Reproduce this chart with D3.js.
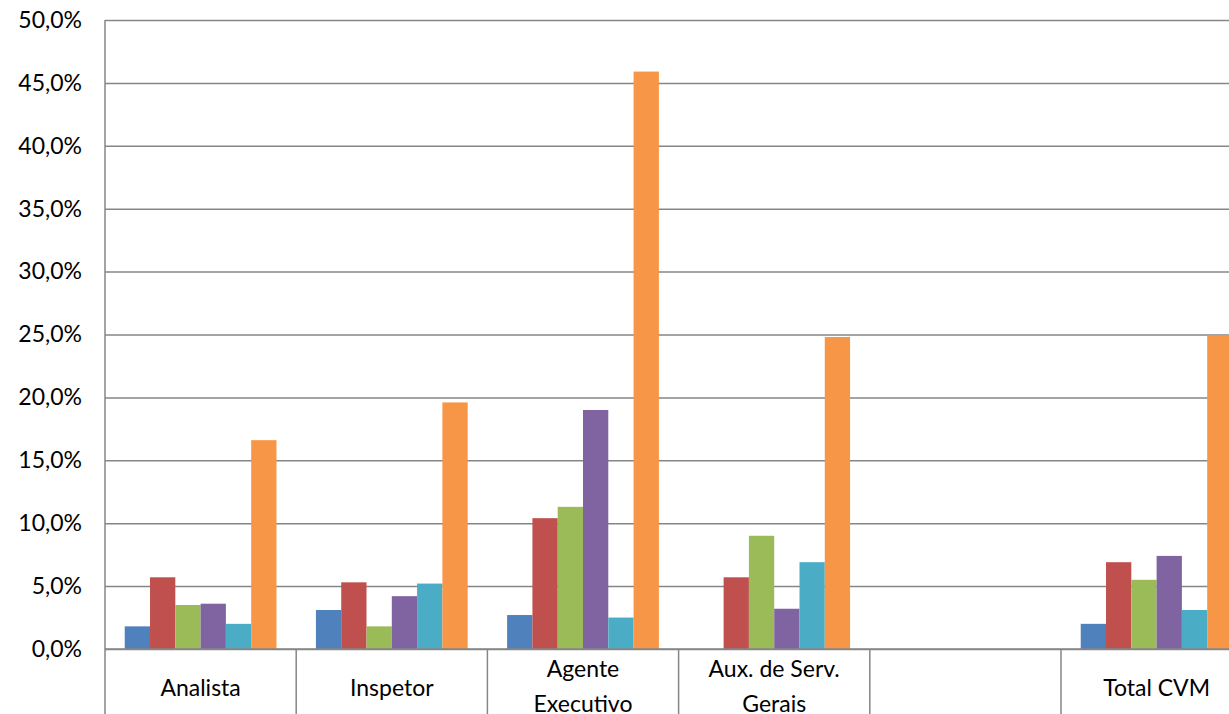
<!DOCTYPE html>
<html>
<head>
<meta charset="utf-8">
<script src="https://cdn.jsdelivr.net/npm/d3@7"></script>
<style>
  html, body { margin: 0; padding: 0; background: #fff; overflow: hidden; }
  svg { display: block; }
</style>
</head>
<body>
<script>
// Categories and tick labels
const categories = ['Analista', 'Inspetor', 'Agente Executivo', 'Aux. de Serv. Gerais', '', 'Total CVM'];
const categoryLines = [['Analista'], ['Inspetor'], ['Agente', 'Executivo'], ['Aux. de Serv.', 'Gerais'], [''], ['Total CVM']];
const yTicks = [0, 0.05, 0.10, 0.15, 0.20, 0.25, 0.30, 0.35, 0.40, 0.45, 0.50];

// Series values (fractions)
const serie1 = [0.018, 0.031, 0.027, 0.000, 0, 0.020];
const serie2 = [0.057, 0.053, 0.104, 0.057, 0, 0.069];
const serie3 = [0.035, 0.018, 0.113, 0.090, 0, 0.055];
const serie4 = [0.036, 0.042, 0.190, 0.032, 0, 0.074];
const serie5 = [0.020, 0.052, 0.025, 0.069, 0, 0.031];
const serie6 = [0.166, 0.196, 0.459, 0.248, 0, 0.249];

const series = [serie1, serie2, serie3, serie4, serie5, serie6];
const colors = ['#4F81BD', '#C0504D', '#9BBB59', '#8064A2', '#4BACC6', '#F79646'];

const W = 1229, H = 714;
const plotLeft = 105, plotTop = 20, baseline = 649;
const bandW = 191.2;

const svg = d3.select('body')
  .append('svg')
  .attr('width', W)
  .attr('height', H);

const x = d3.scaleBand()
  .domain(d3.range(categories.length))
  .range([plotLeft, plotLeft + bandW * categories.length])
  .paddingInner(0)
  .paddingOuter(0);

const xInner = d3.scaleBand()
  .domain(d3.range(series.length))
  .range([0, x.bandwidth()])
  .paddingOuter(0.78)
  .paddingInner(0);

const y = d3.scaleLinear()
  .domain([0, 0.5])
  .range([baseline, plotTop]);

const fmt = d => d3.format('.1f')(d * 100).replace('.', ',') + '%';

// gridlines + y labels
const yAxis = svg.append('g')
  .attr('transform', `translate(${plotLeft},0)`)
  .call(d3.axisLeft(y)
    .tickValues(yTicks)
    .tickFormat(fmt)
    .tickSize(-(W - plotLeft))
    .tickPadding(23));
yAxis.select('.domain').remove();
yAxis.selectAll('line')
  .attr('stroke', '#868686')
  .attr('stroke-width', 1.5);
yAxis.selectAll('text')
  .attr('font-family', 'Lato, sans-serif')
  .attr('font-size', '23px')
  .attr('fill', '#000');

// bars
series.forEach((vals, s) => {
  svg.append('g')
    .selectAll('rect')
    .data(vals)
    .enter()
    .append('rect')
    .attr('x', (d, i) => x(i) + xInner(s))
    .attr('y', d => y(d))
    .attr('width', xInner.bandwidth())
    .attr('height', d => baseline - y(d))
    .attr('fill', colors[s]);
});

// category axis box lines
svg.append('line')
  .attr('x1', plotLeft).attr('x2', W)
  .attr('y1', baseline).attr('y2', baseline)
  .attr('stroke', '#868686').attr('stroke-width', 1.5);

svg.append('line')
  .attr('x1', plotLeft).attr('x2', plotLeft)
  .attr('y1', plotTop).attr('y2', H)
  .attr('stroke', '#868686').attr('stroke-width', 1.5);

svg.selectAll('.sep')
  .data(d3.range(1, categories.length))
  .enter()
  .append('line')
  .attr('x1', d => x(d)).attr('x2', d => x(d))
  .attr('y1', baseline).attr('y2', H)
  .attr('stroke', '#868686').attr('stroke-width', 1.5);

// category labels
const labels = svg.selectAll('.cat')
  .data(categoryLines)
  .enter()
  .append('text')
  .attr('text-anchor', 'middle')
  .attr('font-family', 'Lato, sans-serif')
  .attr('font-size', '23px')
  .attr('fill', '#000');

labels.each(function(lines, i) {
  const t = d3.select(this);
  const cx = x(i) + x.bandwidth() / 2;
  const startY = lines.length === 1 ? 696 : 677;
  lines.forEach((ln, k) => {
    t.append('tspan')
      .attr('x', cx)
      .attr('y', startY + k * 35)
      .text(ln);
  });
});
</script>
</body>
</html>
